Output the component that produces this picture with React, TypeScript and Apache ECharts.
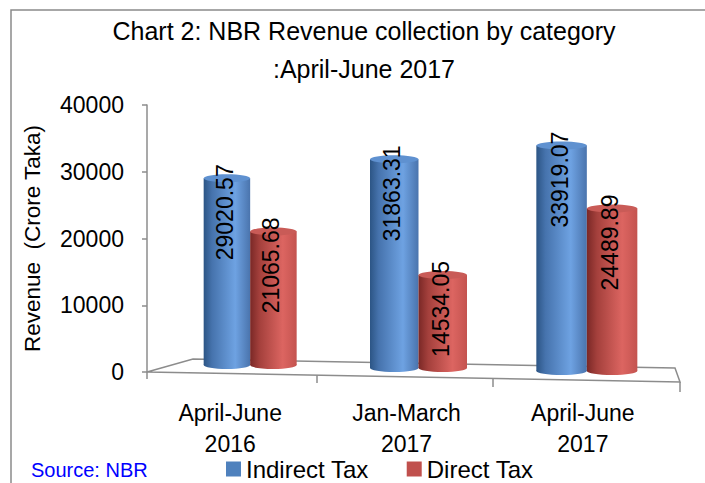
import React, { useEffect, useRef } from "react";
import * as echarts from "echarts";

const categories = ["April-June\n2016", "Jan-March\n2017", "April-June\n2017"];
const indirectTax = [29020.57, 31863.31, 33919.07];
const directTax = [21065.68, 14534.05, 24489.89];
const seriesNames = ["Indirect Tax", "Direct Tax"];
const yMin = 0;
const yMax = 40000;
const yStep = 10000;

const FONT = "'Liberation Sans', Arial, sans-serif";

const blueGrad = () =>
  new echarts.graphic.LinearGradient(0, 0, 1, 0, [
    { offset: 0, color: "#2c5585" },
    { offset: 0.18, color: "#4673ad" },
    { offset: 0.68, color: "#6ea2e2" },
    { offset: 1, color: "#4a74ad" },
  ]);
const redGrad = () =>
  new echarts.graphic.LinearGradient(0, 0, 1, 0, [
    { offset: 0, color: "#7a2826" },
    { offset: 0.2, color: "#a4403c" },
    { offset: 0.7, color: "#dc6561" },
    { offset: 1, color: "#c4534f" },
  ]);

// side: -1 = left bar of the pair, +1 = right bar of the pair
function makeCylinder(side: number, grad: () => any, topColor: string) {
  return (params: any, api: any) => {
    const idx = api.value(0);
    const val = api.value(1);
    const top = api.coord([idx, val]);
    const base = api.coord([idx, 0]);
    const w = 46.5 + 2 * idx; // perspective widening
    const cx = top[0] + (side * w) / 2;
    const ty = top[1];
    const by = base[1] - 7 + 3 * idx; // perspective floor depth
    const ry = 4;
    return {
      type: "group",
      children: [
        {
          type: "ellipse",
          shape: { cx, cy: by, rx: w / 2, ry },
          style: { fill: grad() },
        },
        {
          type: "rect",
          shape: { x: cx - w / 2, y: ty, width: w, height: by - ty },
          style: { fill: grad() },
        },
        {
          type: "ellipse",
          shape: { cx, cy: ty, rx: w / 2, ry },
          style: { fill: topColor },
        },
        {
          type: "text",
          x: cx - 2,
          y: ty + 34,
          rotation: Math.PI / 2,
          z2: 10,
          style: {
            text: Number(val).toFixed(2),
            fill: "#000",
            font: `23px ${FONT}`,
            align: "center",
            verticalAlign: "middle",
          },
        },
      ],
    };
  };
}

export default function App() {
  const ref = useRef<HTMLDivElement>(null);
  useEffect(() => {
    document.body.style.margin = "0";
    const chart = echarts.init(ref.current!, undefined, { renderer: "svg" });
    const gray = "#8c8c8c";
    chart.setOption({
      animation: false,
      backgroundColor: "#fff",
      title: {
        text: "Chart 2: NBR Revenue collection by category\n:April-June 2017",
        left: 364,
        top: 12,
        padding: 0,
        textAlign: "center",
        textStyle: {
          fontFamily: FONT,
          fontSize: 25,
          fontWeight: "normal",
          color: "#000",
          lineHeight: 38,
        },
      },
      legend: {
        data: seriesNames,
        left: 226,
        top: 457,
        padding: 0,
        icon: "rect",
        itemWidth: 15,
        itemHeight: 15,
        itemGap: 38,
        textStyle: { fontFamily: FONT, fontSize: 24, color: "#000" },
      },
      grid: [
        { left: 142, right: 34, top: 105, bottom: 111, containLabel: false },
        { left: 166, right: 34, top: 105, bottom: 111, containLabel: false },
      ],
      xAxis: [
        {
          type: "category",
          gridIndex: 0,
          data: categories,
          axisLine: { show: false },
          axisTick: { show: false },
          axisLabel: {
            fontFamily: FONT,
            fontSize: 23,
            color: "#000",
            lineHeight: 31,
            margin: 25,
            interval: 0,
          },
        },
        {
          type: "category",
          gridIndex: 1,
          data: categories,
          show: false,
        },
      ],
      yAxis: [
        { type: "value", gridIndex: 0, min: yMin, max: yMax, interval: yStep, show: false },
        {
          type: "value",
          gridIndex: 1,
          min: yMin,
          max: yMax,
          interval: yStep,
          offset: 19,
          name: "Revenue  (Crore Taka)",
          nameLocation: "middle",
          nameRotate: 90,
          nameGap: 103,
          nameTextStyle: { fontFamily: FONT, fontSize: 22.5, color: "#000" },
          splitLine: { show: false },
          axisLine: { show: true, lineStyle: { color: gray, width: 1.5 } },
          axisTick: { show: true, length: 5, lineStyle: { color: gray, width: 1.5 } },
          axisLabel: {
            fontFamily: FONT,
            fontSize: 23,
            color: "#000",
            margin: 23,
            formatter: (v: number) => String(v),
          },
        },
      ],
      graphic: [
        {
          type: "rect",
          shape: { x: 11, y: 10, width: 720, height: 500 },
          style: { fill: "none", stroke: "#8a8a8a", lineWidth: 1.5 },
          silent: true,
        },
        {
          type: "polyline",
          shape: { points: [[147, 372], [193, 359], [675, 368], [680, 382], [147, 372]] },
          style: { fill: "none", stroke: gray, lineWidth: 1.5 },
          silent: true,
          z: -1,
        },
        { type: "line", shape: { x1: 147, y1: 372, x2: 147, y2: 379 }, style: { stroke: gray, lineWidth: 1.5 } },
        { type: "line", shape: { x1: 317, y1: 375, x2: 317, y2: 383 }, style: { stroke: gray, lineWidth: 1.5 } },
        { type: "line", shape: { x1: 493, y1: 378, x2: 493, y2: 387 }, style: { stroke: gray, lineWidth: 1.5 } },
        { type: "line", shape: { x1: 680, y1: 382, x2: 680, y2: 392 }, style: { stroke: gray, lineWidth: 1.5 } },
        {
          type: "text",
          left: 31,
          top: 460,
          style: { text: "Source: NBR", fill: "#0000ff", font: `20px ${FONT}` },
        },
      ],
      series: [
        {
          name: seriesNames[0],
          type: "custom",
          xAxisIndex: 1,
          yAxisIndex: 1,
          itemStyle: { color: "#4f81bd" },
          renderItem: makeCylinder(-1, blueGrad, "#5f91d0"),
          data: indirectTax.map((v, i) => [i, v]),
          z: 2,
        },
        {
          name: seriesNames[1],
          type: "custom",
          xAxisIndex: 1,
          yAxisIndex: 1,
          itemStyle: { color: "#c0504d" },
          renderItem: makeCylinder(1, redGrad, "#c95b57"),
          data: directTax.map((v, i) => [i, v]),
          z: 3,
        },
      ],
    });
    return () => chart.dispose();
  }, []);
  return <div ref={ref} style={{ width: 705, height: 483 }} />;
}
